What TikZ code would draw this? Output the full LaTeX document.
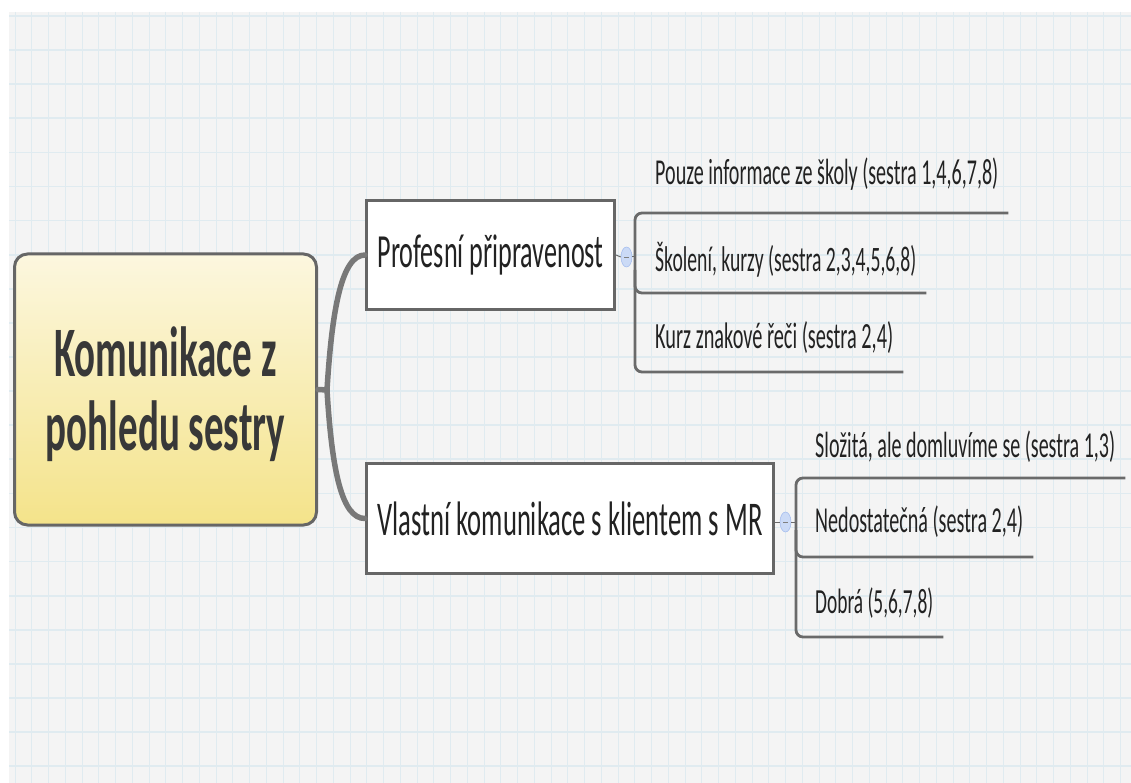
\documentclass[tikz,border=0pt]{standalone}
\usepackage{fontspec}
\setmainfont{Carlito}
\usepackage{graphicx}
\usetikzlibrary{shapes.geometric}
\definecolor{bgc}{HTML}{F4F4F4}
\definecolor{gridc}{HTML}{E0EBF0}
\definecolor{boxc}{HTML}{666666}
\definecolor{branchc}{HTML}{787878}
\definecolor{brc}{HTML}{6A6A6A}
\definecolor{ctop}{HTML}{FCF7DF}
\definecolor{cbot}{HTML}{F4E38A}
\definecolor{txtc}{HTML}{222222}
\definecolor{ctxt}{HTML}{383838}
\definecolor{togfill}{HTML}{CBDAF6}
\definecolor{togdraw}{HTML}{A7BEEE}
\newcommand\fitt[2]{\scalebox{1}[1.82]{\resizebox{#1pt}{!}{#2}}}
\begin{document}
\begin{tikzpicture}[x=1pt,y=-1pt,
  central/.style={draw=boxc, line width=3pt, rounded corners=13pt, top color=ctop, bottom color=cbot, minimum width=302pt, minimum height=271pt, inner sep=0pt},
  ctext/.style={text=ctxt, font=\fontsize{39}{40.5}\selectfont\bfseries, align=center, inner sep=0pt},
  topicbox/.style={draw=boxc, line width=2.6pt, fill=white, inner sep=0pt, minimum height=109.5pt, text=txtc, font=\fontsize{26}{30}\selectfont},
  sub/.style={anchor=base west, inner xsep=10pt, inner ysep=0pt, text=txtc, font=\fontsize{20}{24}\selectfont},
  branch/.style={draw=branchc, line width=5.5pt, line cap=round},
  br/.style={draw=brc, line width=2.8pt, rounded corners=7pt},
  tog/.style={ellipse, draw=togdraw, fill=togfill, line width=0.6pt, minimum width=11pt, minimum height=20pt, inner sep=0pt},
  stub/.style={draw=brc, line width=1pt},
  gridv/.style={draw=gridc, line width=1pt},
  gridh/.style={draw=gridc, line width=1.7pt}
]
\useasboundingbox (0,0) rectangle (1131,783);
\fill[white] (0,0) rectangle (1131,783);
\fill[bgc] (9,12) rectangle (1131,783);
\begin{scope}
\clip (9,12) rectangle (1131,783);
\foreach \i in {0,...,66} \draw[gridv] ({15+16.75*\i},12) -- ({15+16.75*\i},783);
\foreach \j in {0,...,22} \draw[gridh] (9,{16+34.1*\j}) -- (1131,{16+34.1*\j});
\end{scope}

% central topic
\node[central, label={[ctext, yshift=-9pt]center:{\scalebox{1}[1.82]{\begin{tabular}{@{}c@{}}Komunikace z\\pohledu sestry\end{tabular}}}}] (c) at (165.5,389.5) {};

% main topics
\node[topicbox, minimum width=248.5pt] (p) at (490.5,255) {\fitt{226}{Profesní připravenost}};
\node[topicbox, minimum width=407.5pt] (v) at (570,518.5) {\fitt{385}{Vlastní komunikace s klientem s MR}};

% branches
\coordinate (j) at (327,390);
\draw[branch] (c.east) -- (j);
\draw[branch] (j) .. controls +(5,-82) and +(-23,0) .. (p.west);
\draw[branch] (j) .. controls +(5,82) and +(-23,0) .. (v.west);

% toggles
\node[tog] (t1) at (626.5,257) {};
\draw[stub] (p.east) -- (t1.west);
\draw[draw=gray, line width=0.8pt] ([xshift=-2.5pt]t1.center) -- ([xshift=2.5pt]t1.center);
\node[tog] (t2) at (785.5,522) {};
\draw[stub] (v.east |- t2.west) -- (t2.west);
\draw[draw=gray, line width=0.8pt] ([xshift=-2.5pt]t2.center) -- ([xshift=2.5pt]t2.center);

% subtopics group 1
\node[sub] (s11) at (645,185) {\fitt{343}{Pouze informace ze školy (sestra 1,4,6,7,8)}};
\node[sub] (s12) at (645,272) {\fitt{261}{Školení, kurzy (sestra 2,3,4,5,6,8)}};
\node[sub] (s13) at (645,348) {\fitt{238}{Kurz znakové řeči (sestra 2,4)}};
\draw[br] (s11.east |- 0,213) -- (635,213) -- (635,372) -- (s13.east |- 0,372);
\draw[br] (635,270) -- (635,293) -- (s12.east |- 0,293);
\draw[stub] (t1.east) -- (635,257);

% subtopics group 2
\node[sub] (s21) at (805,457) {\fitt{300}{Složitá, ale domluvíme se (sestra 1,3)}};
\node[sub] (s22) at (805,532) {\fitt{208}{Nedostatečná (sestra 2,4)}};
\node[sub] (s23) at (805,613) {\fitt{118}{Dobrá (5,6,7,8)}};
\draw[br] (s21.east |- 0,478) -- (796,478) -- (796,637) -- (s23.east |- 0,637);
\draw[br] (796,530) -- (796,557) -- (s22.east |- 0,557);
\draw[stub] (t2.east) -- (796,522);
\end{tikzpicture}
\end{document}
